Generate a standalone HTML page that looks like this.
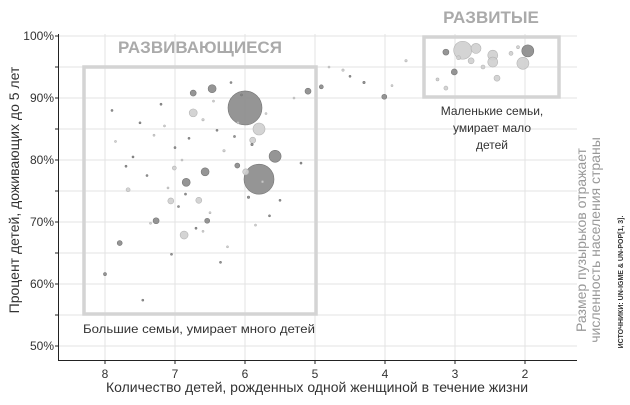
<!DOCTYPE html>
<html><head><meta charset="utf-8"><style>
body{margin:0;background:#fff;}
svg{display:block;font-family:"Liberation Sans",sans-serif;}
</style></head><body>
<svg id="chart" width="630" height="405" viewBox="0 0 630 405">
<g id="grid"></g>
<g id="boxes">
 <rect x="84" y="67" width="232" height="247" fill="none" stroke="#d4d4d4" stroke-width="3.5"/>
 <rect x="424" y="37" width="135" height="60" fill="none" stroke="#d4d4d4" stroke-width="3.5"/>
</g>
<g id="bubbles"></g>
<g id="axes">
 <line x1="58.5" y1="34" x2="58.5" y2="360" stroke="#222" stroke-width="1"/>
 <line x1="58" y1="360.5" x2="577" y2="360.5" stroke="#222" stroke-width="1"/>
</g>
<g id="ticks"></g>
<text x="200" y="53" text-anchor="middle" font-size="17" font-weight="bold" fill="#aaa">РАЗВИВАЮЩИЕСЯ</text>
<text x="491" y="23" text-anchor="middle" font-size="17" font-weight="bold" fill="#aaa">РАЗВИТЫЕ</text>
<g font-size="12" fill="#333" text-anchor="middle">
 <text x="492" y="115">Маленькие семьи,</text>
 <text x="492" y="132">умирает мало</text>
 <text x="492" y="149">детей</text>
</g>
<text x="199" y="333" text-anchor="middle" font-size="12" fill="#333" textLength="232" lengthAdjust="spacingAndGlyphs">Большие семьи, умирает много детей</text>
<text x="0" y="0" transform="translate(19,190) rotate(-90)" text-anchor="middle" font-size="14" fill="#333">Процент детей, доживающих до 5 лет</text>
<text x="317" y="392" text-anchor="middle" font-size="14" fill="#333">Количество детей, рожденных одной женщиной в течение жизни</text>
<g transform="rotate(-90)" font-size="14" fill="#999" text-anchor="middle">
 <text x="-240" y="586">Размер пузырьков отражает</text>
 <text x="-240" y="600">численность населения страны</text>
</g>
<text transform="translate(623,282) rotate(-90)" text-anchor="middle" font-size="7" font-weight="bold" fill="#333">ИСТОЧНИКИ: UN-IGME &amp; UN-POP[1, 3].</text>
</svg>
<script>
const xTicks=[8,7,6,5,4,3,2];
const yTicks=[50,60,70,80,90,100];
const yTickLabels=["50%","60%","70%","80%","90%","100%"];
const fert=[6.0,5.8,5.57,5.8,6.47,6.74,6.74,6.57,6.84,5.1,6.11,5.89,5.99,7.01,7.67,7.27,6.87,6.54,7.79,8.0,7.46,7.06,6.66,
 2.89,2.7,1.96,2.03,2.46,2.46,2.77,3.13,3.01,2.4,3.13,4.01,4.91,2.95,2.2,2.6,2.1,3.25,4.3,4.6,3.7,
 7.9,7.5,7.3,7.2,7.0,6.9,6.8,6.6,6.4,6.3,6.2,6.1,5.9,5.7,5.5,5.3,7.6,7.1,6.95,6.7,6.5,6.35,6.25,5.95,5.85,5.65,
 7.85,7.4,7.15,6.85,6.45,6.15,5.75,7.05,6.6,5.2,4.8,4.5,3.9,7.7,7.35,6.05];
const surv=[88.4,76.9,80.6,85.0,91.5,90.8,87.6,78.1,76.4,91.1,79.1,83.2,78.1,78.7,75.2,70.2,67.9,70.2,66.6,61.6,57.4,73.4,73.5,
 97.7,98.0,97.6,95.6,96.9,95.8,96.0,97.4,94.2,93.2,91.6,90.2,91.8,96.5,97.2,95.0,98.2,93.0,92.5,94.5,96.0,
 88.0,86.0,84.0,89.0,82.0,80.0,83.5,86.5,84.8,81.5,92.5,86.0,82.5,87.5,73.5,90.0,80.5,75.5,72.5,69.0,71.5,63.5,66.0,74.0,69.5,71.0,
 83.0,77.5,85.5,74.5,89.5,83.8,76.5,64.8,68.5,79.5,95.0,93.5,92.0,79.0,69.8,90.5];
const rad=[17,15,6,6,4,3,4,4,4,3,2.5,3,3,2,2,3,4,2.5,2.5,1.5,1,3,3,
 9,5,6,6,5,5,3,3,3,3,2,2.5,2,2,2,2,1.5,1.5,1.2,1.2,1.2,
 1,1,1,1,1,1,1,1.2,1,1.2,1,1,1.2,1,1,1,1,1,1,1,1,1,1,1.2,1,1,
 1,1,1,1,1,1,1,1,1,1,1,1,1,1,1,1];
const shade=[1,1,1,0,1,1,0,1,1,1,1,0,0,0,0,1,0,1,1,1,1,0,0,
 0,0,1,0,0,0,0,1,1,0,0,1,1,0,0,0,0,0,1,0,0,
 1,1,0,1,1,0,1,0,1,0,1,0,1,0,1,0,1,0,1,1,0,1,0,1,0,1,
 0,1,0,1,0,1,0,1,0,1,0,1,0,1,0,1];
const X=v=>105+(8-v)*70, Y=v=>36+(100-v)*6.2;
const NS="http://www.w3.org/2000/svg";
const grid=document.getElementById('grid'),ticks=document.getElementById('ticks'),bub=document.getElementById('bubbles');
function mk(tag,attrs,parent){const e=document.createElementNS(NS,tag);for(const k in attrs)e.setAttribute(k,attrs[k]);parent.appendChild(e);return e;}
for(let v=1.5;v<=8.5;v+=1){}
xTicks.forEach(t=>{
 const g=mk('line',{x1:X(t),x2:X(t),y1:34,y2:360,stroke:'#e3e3e3','stroke-width':1},grid);
 
 
 const tk=mk('line',{x1:X(t),x2:X(t),y1:360,y2:364,stroke:'#222'},ticks);
 
 
 const tx=mk('text',{x:X(t),y:378,'text-anchor':'middle','font-size':12,fill:'#333'},ticks);
 tx.textContent=t;
 
 
});
for(let v=50;v<=100;v+=5){
 const g=mk('line',{x1:58,x2:577,y1:Y(v),y2:Y(v),stroke:'#e3e3e3','stroke-width':1},grid);
 
 
 const tk=mk('line',{x1:55,x2:58,y1:Y(v),y2:Y(v),stroke:'#222'},ticks);
 
 
}
yTicks.forEach((t,i)=>{
 const tx=mk('text',{x:54,y:Y(t)+4,'text-anchor':'end','font-size':12,fill:'#333'},ticks);
 tx.textContent=yTickLabels[i];
 
 
});
fert.forEach((f,i)=>{
 const dark=shade[i]===1;
 const c=mk('circle',{cx:X(f),cy:Y(surv[i]),r:rad[i],fill:dark?'#8a8a8a':'#cfcfcf',stroke:dark?'#777':'#b5b5b5','stroke-width':0.6,'fill-opacity':0.9},bub);
 
 
});
</script>
</body></html>
